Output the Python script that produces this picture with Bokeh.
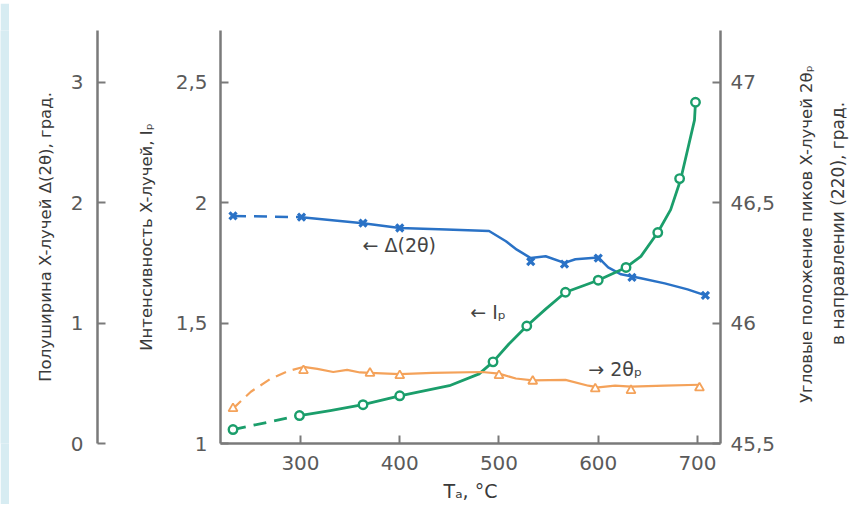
import math
from bokeh.plotting import figure
from bokeh.layouts import row, column
from bokeh.models import LinearAxis, Range1d, FixedTicker, Label
from bokeh.embed import file_html
from bokeh.resources import INLINE

# ---- data ----
# half-width of X-ray peak, Δ(2θ) (left outer axis)
temp_delta = [232, 301, 363, 400, 532, 566, 600, 634, 708]
delta = [1.89, 1.88, 1.83, 1.79, 1.51, 1.49, 1.54, 1.38, 1.23]
curve_delta_dash_t = [232, 301]
curve_delta_dash_v = [1.89, 1.88]
curve_delta_t = [301, 363, 400, 447, 490, 507, 518, 532, 547, 566, 577, 600, 610, 623, 643, 667, 690, 708]
curve_delta_v = [1.88, 1.83, 1.79, 1.777, 1.765, 1.68, 1.61, 1.54, 1.555, 1.50, 1.53, 1.545, 1.463, 1.405, 1.372, 1.33, 1.28, 1.23]

# intensity Ip (left inner axis)
temp_int = [232, 299, 363, 400, 494, 528, 567, 600, 628, 660, 682, 698]
intensity = [1.058, 1.116, 1.161, 1.198, 1.339, 1.488, 1.628, 1.678, 1.731, 1.876, 2.10, 2.417]
curve_int_dash_t = [232, 299]
curve_int_dash_v = [1.058, 1.116]
curve_int_t = [299, 330, 363, 400, 450, 480, 494, 510, 528, 547, 567, 600, 628, 643, 660, 673, 683, 690, 697, 698]
curve_int_v = [1.116, 1.137, 1.161, 1.198, 1.24, 1.289, 1.339, 1.413, 1.488, 1.558, 1.628, 1.678, 1.731, 1.777, 1.876, 1.971, 2.095, 2.219, 2.343, 2.417]

# peak position 2θp (right axis)
temp_theta = [232, 303, 370, 400, 500, 534, 597, 633, 702]
theta = [45.645, 45.803, 45.792, 45.782, 45.782, 45.759, 45.727, 45.72, 45.731]
curve_theta_dash_t = [232, 250, 270, 287, 303]
curve_theta_dash_v = [45.645, 45.715, 45.769, 45.80, 45.818]
curve_theta_t = [303, 317, 333, 347, 360, 370, 400, 433, 483, 500, 517, 534, 567, 590, 600, 617, 633, 667, 702]
curve_theta_v = [45.818, 45.81, 45.797, 45.806, 45.795, 45.793, 45.788, 45.793, 45.797, 45.79, 45.77, 45.762, 45.764, 45.74, 45.733, 45.74, 45.736, 45.74, 45.744]

x_ticks = [300, 400, 500, 600, 700]
int_ticks = [1, 1.5, 2, 2.5]
int_labels = {1: "1", 1.5: "1,5", 2: "2", 2.5: "2,5"}
delta_ticks = [0, 1, 2, 3]
theta_ticks = [45.5, 46, 46.5, 47]
theta_labels = {45.5: "45,5", 46: "46", 46.5: "46,5", 47: "47"}

right_title_1 = "Угловые положение пиков X-лучей 2θₚ"
right_title_2 = "в направлении (220), град."

BLUE = "#2a72c6"
GREEN = "#1b9e6b"
ORANGE = "#f4a25a"
AX = "#7a7a7a"
TICK_TXT = "#5a5a5a"
TITLE_TXT = "#3a3a3a"
PAGE_BG = "#d7ecf2"
FONT = "DejaVu Sans"

H = 501  # height of the main row (below a 3px page band)

p = figure(width=781, height=H, output_backend="svg", toolbar_location=None,
           x_range=Range1d(219.4, 723.2), y_range=Range1d(1.0, 2.715),
           min_border_left=211, min_border_right=70, min_border_top=27, min_border_bottom=59)
p.extra_y_ranges = {"d": Range1d(0, 3.43), "t": Range1d(45.5, 47.215)}
p.grid.visible = False
p.outline_line_color = None
p.background_fill_color = "white"
p.border_fill_color = "white"


def style(ax, ticks, overrides=None):
    ax.ticker = FixedTicker(ticks=ticks)
    if overrides:
        ax.major_label_overrides = overrides
    ax.axis_line_color = AX
    ax.axis_line_width = 2.5
    ax.major_tick_line_color = AX
    ax.major_tick_line_width = 2
    ax.major_tick_in = 8
    ax.major_tick_out = 0
    ax.minor_tick_line_color = None
    ax.major_label_text_font = FONT
    ax.major_label_text_font_size = "20px"
    ax.major_label_text_color = TICK_TXT
    ax.axis_label_text_font = FONT
    ax.axis_label_text_font_style = "normal"
    ax.axis_label_text_font_size = "16.5px"
    ax.axis_label_text_color = TITLE_TXT


xa = p.xaxis[0]
style(xa, x_ticks)
xa.axis_label = "Tₐ, °C"
xa.axis_label_text_font_size = "19px"
xa.major_label_standoff = 12
xa.axis_label_standoff = 7

ya = p.yaxis[0]
style(ya, int_ticks, int_labels)
ya.axis_label = "Интенсивность X-лучей, Iₚ"
ya.major_label_standoff = 13
ya.axis_label_standoff = 17

# invisible spacer between the two left axes
spacer = LinearAxis(ticker=FixedTicker(ticks=[1.25]), major_label_overrides={1.25: ""},
                    axis_line_color="white", axis_line_width=1,
                    major_tick_line_color="white", minor_tick_line_color=None,
                    major_tick_in=0, major_tick_out=36, major_label_standoff=0,
                    major_label_text_font_size="0px")
p.add_layout(spacer, "left")

da = LinearAxis(y_range_name="d")
style(da, delta_ticks)
da.axis_label = "Полуширина X-лучей Δ(2θ), град."
da.major_label_standoff = 14
da.axis_label_standoff = 13
p.add_layout(da, "left")

ta = LinearAxis(y_range_name="t")
style(ta, theta_ticks, theta_labels)
ta.major_label_standoff = 10
p.add_layout(ta, "right")

# ---- curves ----
p.line(curve_delta_dash_t, curve_delta_dash_v, y_range_name="d", line_color=BLUE,
       line_width=2.5, line_dash="13 8")
p.line(curve_delta_t, curve_delta_v, y_range_name="d", line_color=BLUE, line_width=2.5,
       line_join="round")
p.line(curve_int_dash_t, curve_int_dash_v, line_color=GREEN, line_width=2.8, line_dash="13 8")
p.line(curve_int_t, curve_int_v, line_color=GREEN, line_width=2.8, line_join="round")
p.line(curve_theta_dash_t, curve_theta_dash_v, y_range_name="t", line_color=ORANGE,
       line_width=2.2, line_dash="11 7")
p.line(curve_theta_t, curve_theta_v, y_range_name="t", line_color=ORANGE, line_width=2.2,
       line_join="round")

# ---- markers ----
p.scatter(temp_delta, delta, y_range_name="d", marker="x", size=10, line_width=3.2,
          line_color=BLUE)
p.scatter(temp_int, intensity, marker="circle", size=8.5, line_width=2.4,
          line_color=GREEN, fill_color="white")
p.scatter(temp_theta, theta, y_range_name="t", marker="triangle", size=9, line_width=1.8,
          line_color=ORANGE, fill_color="white")

# ---- in-plot annotations ----
for x, y, txt in [(362.5, 1.826, "← Δ(2θ)"), (471.0, 1.545, "← Iₚ"), (590.0, 1.31, "→ 2θₚ")]:
    p.add_layout(Label(x=x, y=y, text=txt, text_baseline="middle", text_align="left",
                       text_font=FONT, text_font_size="19px", text_color="#444444"))


def blank(w, h, color):
    f = figure(width=w, height=h, output_backend="svg", toolbar_location=None,
               x_range=Range1d(0, w), y_range=Range1d(h, 0),
               x_axis_type=None, y_axis_type=None,
               min_border_left=0, min_border_right=0, min_border_top=0, min_border_bottom=0)
    f.grid.visible = False
    f.outline_line_color = None
    f.background_fill_color = color
    f.border_fill_color = color
    return f


# ---- right-hand axis title (two lines reading bottom-to-top) in a narrow side panel ----
side = blank(67, H, "white")
side.add_layout(Label(x=16, y=247, text=right_title_1, angle=math.pi / 2,
                      text_align="center", text_baseline="middle", text_font=FONT,
                      text_font_size="16.5px", text_color=TITLE_TXT))
side.add_layout(Label(x=47, y=234, text=right_title_2, angle=math.pi / 2,
                      text_align="center", text_baseline="middle", text_font=FONT,
                      text_font_size="17px", text_color=TITLE_TXT))

# light-blue page bands at the top and left, as in the picture
band_top = blank(857, 3, PAGE_BG)
band_left = blank(9, H, PAGE_BG)

layout = column(band_top, row(band_left, p, side, spacing=0), spacing=0)
open("out.html", "w").write(file_html(layout, INLINE))
